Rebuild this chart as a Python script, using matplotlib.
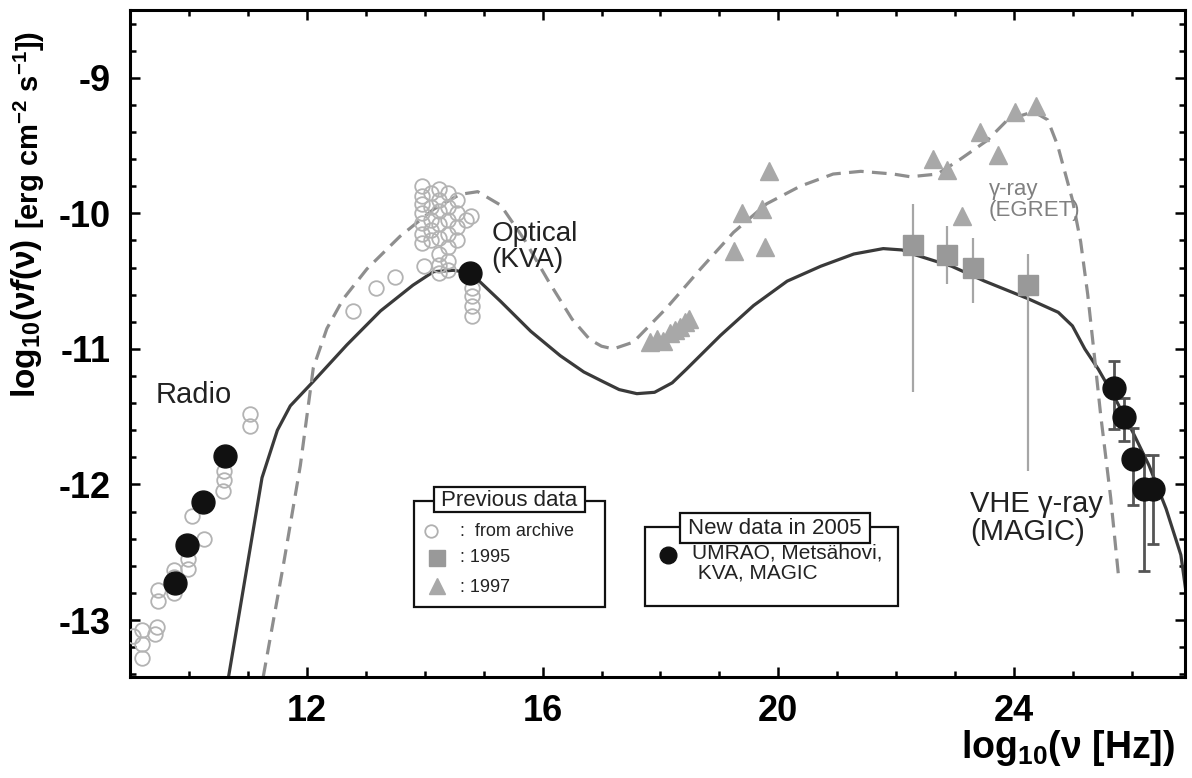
import matplotlib
matplotlib.use("Agg")
import matplotlib.pyplot as plt
from matplotlib.patches import Rectangle
from matplotlib.lines import Line2D
from matplotlib.ticker import MultipleLocator, FixedLocator

plt.rcParams['font.family'] = ['Liberation Sans', 'DejaVu Sans']
plt.rcParams['axes.unicode_minus'] = False
plt.rcParams['mathtext.fontset'] = 'custom'
plt.rcParams['mathtext.rm'] = 'Liberation Sans:bold'
plt.rcParams['mathtext.bf'] = 'Liberation Sans:bold'
plt.rcParams['mathtext.it'] = 'Liberation Sans:italic:bold'

# ---------------- data ----------------
# new 2005 data (UMRAO, Metsahovi, KVA, MAGIC)
radio_new_x = [9.76, 9.97, 10.24, 10.62]
radio_new_y = [-12.73, -12.45, -12.13, -11.79]
kva_x = [14.77]
kva_y = [-10.44]
magic_x = [25.70, 25.86, 26.01, 26.20, 26.35]
magic_y = [-11.29, -11.50, -11.81, -12.03, -12.03]
magic_up = [-11.09, -11.36, -11.58, -11.78, -11.78]
magic_lo = [-11.59, -11.68, -12.15, -12.64, -12.44]

# archive data (open circles)
arch_x = [11.03, 11.03, 10.60, 10.60, 10.58, 10.25, 10.06, 9.99, 9.99, 9.74, 9.74,
          9.74, 9.74, 9.48, 9.48, 9.45, 9.43, 9.20, 9.20, 9.20, 9.05,
          12.79, 13.18, 13.49, 13.98,
          13.95, 13.95, 13.95, 13.95, 13.95, 13.95, 13.95,
          14.10, 14.10, 14.10, 14.10, 14.10,
          14.25, 14.25, 14.25, 14.25, 14.25, 14.25, 14.25, 14.25,
          14.40, 14.40, 14.40, 14.40, 14.40, 14.40, 14.40,
          14.55, 14.55, 14.55, 14.55,
          14.70, 14.78, 14.80, 14.80, 14.80, 14.80]
arch_y = [-11.48, -11.57, -11.90, -11.97, -12.05, -12.40, -12.23, -12.55, -12.62, -12.63, -12.68,
          -12.75, -12.80, -12.78, -12.86, -13.05, -13.10, -13.07, -13.18, -13.28, -13.12,
          -10.72, -10.55, -10.47, -10.39,
          -9.80, -9.87, -9.93, -10.00, -10.07, -10.15, -10.22,
          -9.85, -9.95, -10.05, -10.12, -10.20,
          -9.82, -9.90, -9.98, -10.08, -10.18, -10.30, -10.38, -10.44,
          -9.85, -9.95, -10.05, -10.15, -10.25, -10.35, -10.42,
          -9.90, -10.00, -10.10, -10.20,
          -10.05, -10.02, -10.55, -10.61, -10.68, -10.76]

# 1995 (squares, EGRET)
sq_x = [22.28, 22.86, 23.30, 24.24]
sq_y = [-10.23, -10.31, -10.40, -10.53]
sq_up = [-9.93, -10.09, -10.18, -10.30]
sq_lo = [-11.32, -10.52, -10.66, -11.90]

# 1997 (triangles)
tri_x = [17.82, 17.95, 18.04, 18.16, 18.25, 18.33, 18.41, 18.49,
         19.24, 19.39, 19.73, 19.77, 19.85,
         22.62, 22.87, 23.11, 23.42, 23.73, 24.02, 24.38]
tri_y = [-10.95, -10.93, -10.94, -10.88, -10.86, -10.84, -10.80, -10.78,
         -10.28, -10.00, -9.97, -10.25, -9.69,
         -9.60, -9.68, -10.02, -9.40, -9.57, -9.25, -9.21]

# model curves
sol_x = [10.66, 11.24, 11.50, 11.72, 12.11, 12.68, 13.25, 13.80, 14.15, 14.49, 14.78,
         15.29, 15.80, 16.30, 16.70, 17.02, 17.30, 17.60, 17.90, 18.20, 18.44, 19.02,
         19.58, 20.15, 20.72, 21.28, 21.78, 22.10, 22.28, 22.94, 23.50, 24.24, 24.75,
         24.99, 25.20, 25.43, 25.72, 26.01, 26.29, 26.58, 26.83, 26.97, 27.05]
sol_y = [-13.45, -11.95, -11.60, -11.42, -11.24, -10.97, -10.72, -10.53, -10.43, -10.42, -10.44,
         -10.65, -10.87, -11.05, -11.17, -11.24, -11.30, -11.33, -11.32, -11.25, -11.15, -10.90,
         -10.68, -10.50, -10.39, -10.30, -10.26, -10.27, -10.30, -10.39, -10.50, -10.63, -10.73,
         -10.83, -11.00, -11.15, -11.37, -11.61, -11.86, -12.18, -12.52, -12.96, -13.50]

dash_x = [11.26, 11.60, 11.89, 12.11, 12.34, 12.62, 13.02, 13.58, 14.15, 14.60, 14.90,
          15.29, 15.70, 16.10, 16.50, 16.80, 17.00, 17.20, 17.54, 18.10, 18.68, 19.24,
          19.80, 20.37, 20.93, 21.40, 21.95, 22.24, 22.70, 23.09, 23.55, 23.89, 24.33,
          24.57, 24.74, 24.99, 25.13, 25.25, 25.35, 25.47, 25.64, 25.78]
dash_y = [-13.42, -12.60, -11.86, -11.14, -10.85, -10.63, -10.41, -10.17, -9.97, -9.86, -9.84,
          -9.94, -10.20, -10.50, -10.78, -10.93, -10.98, -11.00, -10.95, -10.70, -10.41, -10.14,
          -9.93, -9.80, -9.71, -9.69, -9.71, -9.73, -9.71, -9.60, -9.46, -9.31, -9.25,
          -9.31, -9.50, -9.90, -10.21, -10.60, -11.00, -11.49, -12.10, -12.71]

x_ticks = [12, 16, 20, 24]
y_ticks = [-9, -10, -11, -12, -13]

# ---------------- figure ----------------
W, H = 1192, 778
fig = plt.figure(figsize=(W / 100, H / 100), dpi=100)
def fx(px): return px / W
def fy(py): return 1 - py / H

ax = fig.add_axes([fx(130), fy(677), (1185 - 130) / W, (677 - 10) / H])
ax.set_xlim(9, 26.9)
ax.set_ylim(-13.42, -8.5)

# curves
ax.plot(sol_x, sol_y, color='#3a3a3a', lw=2.3, zorder=2, solid_joinstyle='round')
ax.plot(dash_x, dash_y, color='#8e8e8e', lw=2.3, zorder=2, dashes=(4.6, 2.6))

# archive circles
ax.plot(arch_x, arch_y, ls='none', marker='o', ms=10.5, mfc='none', mec='#b3b3b3', mew=1.3, zorder=3)

# 1995 squares with error bars
sq_err = [[y - l for y, l in zip(sq_y, sq_lo)], [u - y for y, u in zip(sq_y, sq_up)]]
ax.errorbar(sq_x, sq_y, yerr=sq_err, fmt='none', ecolor='#a6a6a6', elinewidth=1.6, zorder=3)
ax.plot(sq_x, sq_y, ls='none', marker='s', ms=14, mfc='#999999', mec='#999999', zorder=4)

# 1997 triangles
ax.plot(tri_x, tri_y, ls='none', marker='^', ms=13, mfc='#a8a8a8', mec='#a8a8a8', zorder=4)

# MAGIC error bars
mg_err = [[y - l for y, l in zip(magic_y, magic_lo)], [u - y for y, u in zip(magic_y, magic_up)]]
ax.errorbar(magic_x, magic_y, yerr=mg_err, fmt='none', ecolor='#555555', elinewidth=2.0,
            capsize=4, capthick=2.0, zorder=4)

# new data black dots
ax.plot(radio_new_x, radio_new_y, ls='none', marker='o', ms=16.5, color='#111111', zorder=5)
ax.plot(kva_x, kva_y, ls='none', marker='o', ms=16.5, color='#111111', zorder=5)
ax.plot(magic_x, magic_y, ls='none', marker='o', ms=16.5, color='#111111', zorder=5)

# axes style
for s in ax.spines.values():
    s.set_linewidth(2.2)
ax.xaxis.set_major_locator(FixedLocator(x_ticks))
ax.yaxis.set_major_locator(FixedLocator(y_ticks))
ax.xaxis.set_minor_locator(MultipleLocator(1))
ax.yaxis.set_minor_locator(MultipleLocator(0.2))
ax.tick_params(which='both', direction='in', top=True, right=True, width=1.8)
ax.tick_params(which='major', length=7.5)
ax.tick_params(which='minor', length=4.5)
ax.tick_params(axis='x', which='major', pad=12)
ax.tick_params(axis='y', which='major', pad=14)
ax.set_xticklabels([str(v) for v in x_ticks], fontsize=26, fontweight='bold')
ax.set_yticklabels([str(v) for v in y_ticks], fontsize=26, fontweight='bold')

# axis labels
fig.text(fx(1175), fy(748), r'log$_{\mathbf{10}}$(ν [Hz])', fontsize=27, fontweight='bold',
         ha='right', va='center')
fig.text(fx(26), fy(398), r'log$_{\mathbf{10}}$(ν$\mathit{f}$(ν)', fontsize=24, fontweight='bold',
         rotation=90, ha='center', va='bottom')
fig.text(fx(29), fy(229), r'[erg cm$^{\mathbf{-2}}$ s$^{\mathbf{-1}}$])', fontsize=21, fontweight='bold',
         rotation=90, ha='center', va='bottom')

# annotations
ax.text(9.44, -11.34, 'Radio', fontsize=21, color='#222222', ha='left', va='center')
ax.text(15.13, -10.25, 'Optical\n(KVA)', fontsize=20, color='#222222', ha='left', va='center',
        linespacing=1.0)
ax.text(23.57, -9.9, 'γ-ray\n(EGRET)', fontsize=16, color='#808080', ha='left', va='center',
        linespacing=1.0)
ax.text(23.26, -12.25, 'VHE γ-ray\n(MAGIC)', fontsize=21, color='#222222', ha='left', va='center',
        linespacing=1.0)

# legend box 1: Previous data
def rect(x0, y0, x1, y1, z=10):
    r = Rectangle((fx(x0), fy(y1)), fx(x1) - fx(x0), fy(y0) - fy(y1), transform=fig.transFigure,
                  facecolor='white', edgecolor='#111111', lw=1.6, zorder=z)
    fig.add_artist(r)

rect(414, 501, 605, 607, 10)
rect(434, 487, 585, 512, 11)
fig.text(fx(509.5), fy(500), 'Previous data', fontsize=16, ha='center', va='center', zorder=12, color='#222222')
fig.add_artist(Line2D([fx(431)], [fy(531)], marker='o', ms=9, mfc='none', mec='#b0b0b0', mew=1.3,
                      transform=fig.transFigure, zorder=12))
fig.text(fx(460), fy(531), ':  from archive', fontsize=13, ha='left', va='center', zorder=12, color='#222222')
fig.add_artist(Line2D([fx(437)], [fy(558)], marker='s', ms=11.5, mfc='#999999', mec='#999999',
                      transform=fig.transFigure, zorder=12))
fig.text(fx(460), fy(558), ': 1995', fontsize=13, ha='left', va='center', zorder=12, color='#222222')
fig.add_artist(Line2D([fx(437)], [fy(586)], marker='^', ms=11, mfc='#a8a8a8', mec='#a8a8a8',
                      transform=fig.transFigure, zorder=12))
fig.text(fx(460), fy(587), ': 1997', fontsize=13, ha='left', va='center', zorder=12, color='#222222')

# legend box 2: New data in 2005
rect(645, 527, 898, 606, 10)
rect(680, 513, 870, 543, 11)
fig.text(fx(775), fy(528), 'New data in 2005', fontsize=16, ha='center', va='center', zorder=12, color='#222222')
fig.add_artist(Line2D([fx(668)], [fy(555)], marker='o', ms=12, color='#111111',
                      transform=fig.transFigure, zorder=12))
fig.text(fx(692), fy(563), 'UMRAO, Metsähovi,\n KVA, MAGIC', fontsize=15, ha='left', va='center',
         zorder=12, color='#222222', linespacing=1.05)

fig.savefig('out.png', dpi=100)
